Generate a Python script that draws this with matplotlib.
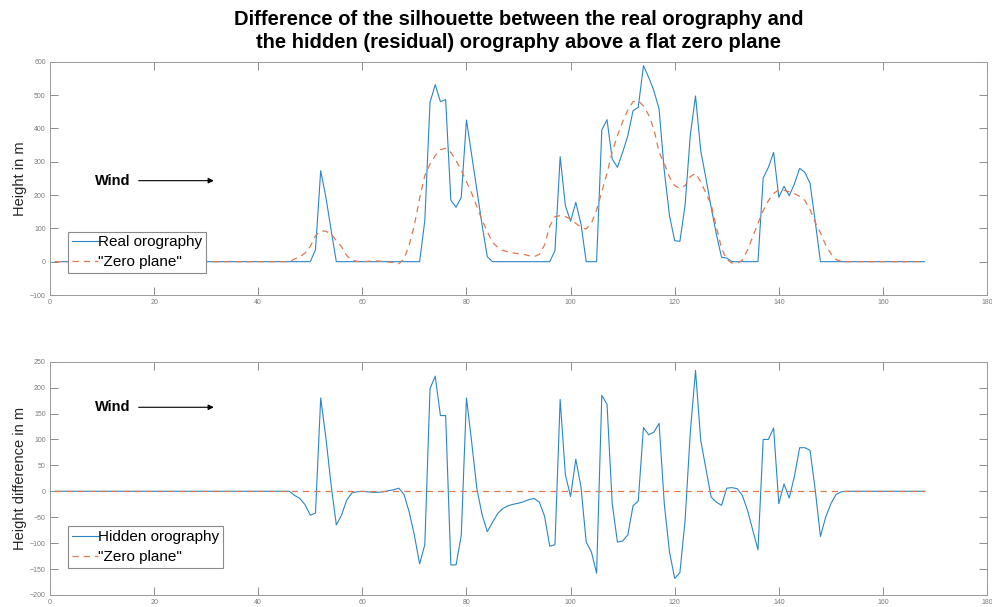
import matplotlib
matplotlib.use('Agg')
import matplotlib.pyplot as plt
import numpy as np

plt.rcParams['font.family'] = ['Liberation Sans', 'DejaVu Sans']

# sample positions along the cross-section
x = np.arange(1, 169)

# real orography (m), x = 1..168
real = [
    0, 0, 0, 0, 0, 0, 0, 0, 0, 0,
    0, 0, 0, 0, 0, 0, 0, 0, 0, 0,
    0, 0, 0, 0, 0, 0, 0, 0, 0, 0,
    0, 0, 0, 0, 0, 0, 0, 0, 0, 0,
    0, 0, 0, 0, 0, 0, 0, 0, 0, 0,
    36, 273, 193, 95, 0, 0, 0, 0, 0, 0,
    0, 0, 0, 0, 0, 0, 0, 0, 0, 0,
    0, 123, 478, 531, 480, 486, 185, 163, 193, 425,
    320, 215, 110, 15, 0, 0, 0, 0, 0, 0,
    0, 0, 0, 0, 0, 0, 33, 315, 168, 121,
    178, 113, 0, 0, 0, 395, 426, 308, 283, 328,
    378, 453, 463, 588, 553, 513, 458, 273, 138, 63,
    61, 170, 380, 497, 333, 250, 163, 83, 13, 11,
    0, 0, 0, 0, 0, 0, 251, 283, 328, 193,
    226, 198, 233, 280, 268, 235, 120, 0, 0, 0,
    0, 0, 0, 0, 0, 0, 0, 0, 0, 0,
    0, 0, 0, 0, 0, 0, 0, 0,
]

# smoothed "zero plane" (m)
zero_plane = [
    0, 0, 0, 0, 0, 0, 0, 0, 0, 0,
    0, 0, 0, 0, 0, 0, 0, 0, 0, 0,
    0, 0, 0, 0, 0, 0, 0, 0, 0, 0,
    0, 0, 0, 0, 0, 0, 0, 0, 0, 0,
    0, 0, 0, 0, 0, 0, 8, 14, 26, 46,
    78, 93, 91, 83, 63, 45, 18, 4, 1, 0,
    1, 2, 2, 1, -1, -3, -6, 8, 50, 110,
    190, 258, 293, 318, 336, 340, 328, 303, 275, 240,
    205, 165, 125, 90, 58, 43, 34, 29, 26, 24,
    22, 18, 15, 22, 50, 107, 135, 138, 135, 128,
    115, 103, 98, 115, 155, 210, 265, 330, 378, 420,
    455, 480, 483, 467, 440, 398, 328, 295, 254, 228,
    220, 228, 255, 265, 240, 205, 172, 104, 40, 6,
    -4, -5, 5, 35, 75, 115, 153, 183, 205, 215,
    214, 210, 204, 196, 184, 156, 118, 87, 50, 24,
    6, 1, 0, 0, 0, 0, 0, 0, 0, 0,
    0, 0, 0, 0, 0, 0, 0, 0,
]

# hidden (residual) orography (m)
hidden = [
    0, 0, 0, 0, 0, 0, 0, 0, 0, 0,
    0, 0, 0, 0, 0, 0, 0, 0, 0, 0,
    0, 0, 0, 0, 0, 0, 0, 0, 0, 0,
    0, 0, 0, 0, 0, 0, 0, 0, 0, 0,
    0, 0, 0, 0, 0, 0, -8, -14, -26, -46,
    -42, 180, 103, 12, -65, -46, -17, -3, -1, 0,
    -1, -2, -2, -1, 1, 3, 6, -6, -40, -85,
    -140, -103, 198, 222, 146, 146, -142, -142, -85, 180,
    95, 5, -45, -78, -60, -43, -33, -28, -25, -23,
    -20, -16, -14, -21, -48, -106, -103, 177, 32, -10,
    62, 8, -98, -117, -158, 185, 168, -24, -98, -96,
    -84, -28, -19, 123, 109, 114, 131, -24, -117, -168,
    -157, -56, 114, 233, 98, 44, -11, -21, -27, 6,
    7, 5, -8, -37, -75, -113, 100, 100, 122, -24,
    14, -13, 29, 84, 84, 79, 2, -87, -50, -24,
    -6, -1, 0, 0, 0, 0, 0, 0, 0, 0,
    0, 0, 0, 0, 0, 0, 0, 0,
]

flat = [0] * len(x)

blue = '#2b86c8'
orange = '#E07850'
gray = '#7a7a7a'


def style(ax, yticks):
    ax.set_xlim(0, 180)
    ax.set_xticks(range(0, 181, 20))
    ax.set_ylim(yticks[0], yticks[-1])
    ax.set_yticks(yticks)
    ax.tick_params(direction='in', top=True, right=True, length=5.5,
                   width=0.6, colors=gray, labelsize=5, pad=3)
    for s in ax.spines.values():
        s.set_color('#9a9a9a')
        s.set_linewidth(0.7)


def add_legend(ax, y0):
    leg = ax.legend(loc='lower left', bbox_to_anchor=(0.019, y0),
                    borderaxespad=0, fancybox=False, edgecolor='#8a8a8a',
                    fontsize=11, handlelength=1.7, handletextpad=0.05,
                    borderpad=0.25, labelspacing=0.38, framealpha=1)
    leg.get_frame().set_linewidth(0.8)


fig = plt.figure(figsize=(9.92, 6.07), dpi=100)
ax1 = fig.add_axes([0.0504, 0.514, 0.9446, 0.3844])
ax2 = fig.add_axes([0.0504, 0.0198, 0.9446, 0.3844])

# upper panel
ax1.plot(x, real, color=blue, lw=0.8, label='Real orography')
ax1.plot(x, zero_plane, color=orange, lw=0.9, ls=(0, (5, 4)),
         label='"Zero plane"')
style(ax1, list(range(-100, 601, 100)))
ax1.set_ylabel('Height in m', fontsize=10.5, color='#262626', labelpad=2)
ax1.text(8.6, 243, 'Wind', fontsize=10.5, fontweight='bold', va='center')
ax1.annotate('', xy=(32, 243), xytext=(16.5, 243),
             arrowprops=dict(arrowstyle='-|>', color='black', lw=0.8,
                             mutation_scale=8))
add_legend(ax1, 0.094)

# lower panel
ax2.plot(x, hidden, color=blue, lw=0.8, label='Hidden orography')
ax2.plot(x, flat, color=orange, lw=0.9, ls=(0, (5, 4)),
         label='"Zero plane"')
style(ax2, list(range(-200, 251, 50)))
ax2.set_ylabel('Height difference in m', fontsize=10.5, color='#262626',
               labelpad=2)
ax2.text(8.6, 162, 'Wind', fontsize=10.5, fontweight='bold', va='center')
ax2.annotate('', xy=(32, 162), xytext=(16.5, 162),
             arrowprops=dict(arrowstyle='-|>', color='black', lw=0.8,
                             mutation_scale=8))
add_legend(ax2, 0.116)

fig.text(0.5227, 0.949,
         'Difference of the silhouette between the real orography and\n'
         'the hidden (residual) orography above a flat zero plane',
         ha='center', va='center', fontsize=14.5, fontweight='bold',
         linespacing=1.3)

fig.savefig('out.png', dpi=100)
